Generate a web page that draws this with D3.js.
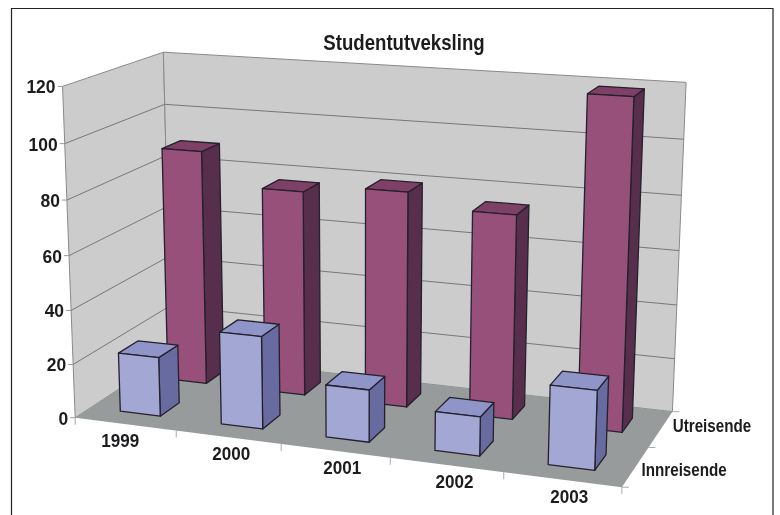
<!doctype html>
<html lang="en">
<head>
<meta charset="utf-8">
<title>Studentutveksling</title>
<script src="https://d3js.org/d3.v7.min.js"></script>
<style>
  html, body { margin: 0; background: #fff; }
  svg { display: block; filter: blur(0.35px); }
  text { font-family: "Liberation Sans", sans-serif; font-weight: bold; fill: #1c1c1f; }
</style>
</head>
<body>
<svg id="chart" width="780" height="515"></svg>
<script>
// data
const years = ["1999", "2000", "2001", "2002", "2003"];
const seriesNames = ["Innreisende", "Utreisende"];
const innreisende = [22, 34, 19, 14, 28];
const utreisende = [89, 77, 80, 75, 119];
const yTicks = [0, 20, 40, 60, 80, 100, 120];

const svg = d3.select("#chart");

// scales into "box" units, x 0..5, z 0..1 (front to back), y 0..120
const xBand = d3.scaleBand().domain(years).range([0, 5]).paddingInner(0.6).paddingOuter(0.3);
const zBand = d3.scaleBand().domain(seriesNames).range([0, 1]).paddingInner(0.6).paddingOuter(0.3);
const yScale = d3.scaleLinear().domain([0, 120]).range([0, 120]);

// known box corners and floor spots -> screen, used to fit the perspective camera
const calib = [
  [0, 0, 0, 76, 416], [0, 120, 0, 62, 86],
  [0, 0, 1, 169, 360], [0, 120, 1, 164, 52],
  [5, 0, 1, 673, 410], [5, 120, 1, 686, 83],
  [5, 0, 0, 622, 488],
  [1, 0, 0, 176, 431], [2, 0, 0, 281, 446], [3, 0, 0, 390, 459], [4, 0, 0, 503, 474],
  [0.7, 0, 0.65, 207, 381], [1.7, 0, 0.65, 305, 393], [3.7, 0, 0.65, 513, 418], [4.7, 0, 0.65, 622, 432],
  [0.7, 0, 0.15, 161, 415], [1.7, 0, 0.15, 263, 428], [2.7, 0, 0.15, 369, 442], [3.7, 0, 0.15, 480, 456], [4.7, 0, 0.15, 594, 471]
];

function solve(A, b) {
  const n = b.length;
  const M = A.map((r, i) => [...r, b[i]]);
  for (let i = 0; i < n; i++) {
    let p = i;
    for (let k = i + 1; k < n; k++) if (Math.abs(M[k][i]) > Math.abs(M[p][i])) p = k;
    [M[i], M[p]] = [M[p], M[i]];
    for (let k = 0; k < n; k++) {
      if (k === i) continue;
      const f = M[k][i] / M[i][i];
      for (let j = i; j <= n; j++) M[k][j] -= f * M[i][j];
    }
  }
  return M.map((r, i) => r[n] / r[i]);
}

function fitCamera(points) {
  const rows = [], rhs = [];
  points.forEach(([x0, y0, z, u, v]) => {
    const x = x0 / 5, y = y0 / 120;
    rows.push([x, y, z, 1, 0, 0, 0, 0, -u * x, -u * y, -u * z]); rhs.push(u);
    rows.push([0, 0, 0, 0, x, y, z, 1, -v * x, -v * y, -v * z]); rhs.push(v);
  });
  const A = d3.range(11).map(i => d3.range(11).map(j => d3.sum(rows, r => r[i] * r[j] / 1e4)));
  const b = d3.range(11).map(i => d3.sum(rows, (r, k) => r[i] * rhs[k] / 1e4));
  return solve(A, b);
}

const cam = fitCamera(calib);
function project(x0, y0, z) {
  const x = x0 / 5, y = y0 / 120;
  const w = 1 + cam[8] * x + cam[9] * y + cam[10] * z;
  return [(cam[0] * x + cam[1] * y + cam[2] * z + cam[3]) / w,
          (cam[4] * x + cam[5] * y + cam[6] * z + cam[7]) / w];
}
const poly = pts => "M" + pts.map(p => p.join(",")).join("L") + "Z";

// no narrow bold font here, so squeeze the text sideways
function label(x, y, str, size, sx, anchor) {
  svg.append("text").attr("transform", `translate(${x},${y}) scale(${sx},1)`)
    .attr("text-anchor", anchor).style("font-size", size + "px").text(str);
}

// frame
svg.append("path").attr("d", "M11.5,515V8.5H773V515").attr("fill", "none").attr("stroke", "#222").attr("stroke-width", 1.2);

label(404, 50, "Studentutveksling", 23, 0.81, "middle");

// walls and floor
const wallCol = "#cccccc", wallLine = "#8a8a8a";
svg.append("path").attr("fill", wallCol).attr("stroke", wallLine)
  .attr("d", poly([project(0, 0, 0), project(0, 120, 0), project(0, 120, 1), project(0, 0, 1)]));
svg.append("path").attr("fill", wallCol).attr("stroke", wallLine)
  .attr("d", poly([project(0, 0, 1), project(0, 120, 1), project(5, 120, 1), project(5, 0, 1)]));
svg.append("path").attr("fill", "#979b9b")
  .attr("d", poly([project(0, 0, 0), project(0, 0, 1), project(5, 0, 1), project(5, 0, 0)]));

// gridlines and value axis
const grid = svg.append("g").attr("fill", "none").attr("stroke", "#77777a").attr("stroke-width", 1);
yTicks.filter(t => t > 0 && t < 120).forEach(t => {
  grid.append("path").attr("d", "M" + [project(0, yScale(t), 0), project(0, yScale(t), 1), project(5, yScale(t), 1)].map(p => p.join(",")).join("L"));
});
yTicks.forEach(t => {
  const p = project(0, yScale(t), 0);
  svg.append("line").attr("x1", p[0] - 5).attr("x2", p[0]).attr("y1", p[1]).attr("y2", p[1]).attr("stroke", "#999");
  label(p[0] - 7, p[1] + 7, t, 19, 0.92, "end");
});

// category ticks and labels along the front edge
d3.range(0, 6).forEach(i => {
  const p = project(i, 0, 0);
  svg.append("line").attr("x1", p[0]).attr("x2", p[0]).attr("y1", p[1]).attr("y2", p[1] + 7).attr("stroke", "#aaa");
});
const yearNudge = [-5, 3, 7, 8, 7]; // labels do not sit quite at the band centres
years.forEach((y, i) => {
  const p = project(xBand(y) + xBand.bandwidth() / 2, 0, 0);
  label(p[0] + yearNudge[i], p[1] + 23, y, 18, 0.95, "middle");
});

// depth ticks and series labels
[0, 0.5, 1].forEach(z => {
  const p = project(5, 0, z);
  svg.append("line").attr("x1", p[0]).attr("x2", p[0] + 7).attr("y1", p[1]).attr("y2", p[1]).attr("stroke", "#aaa");
});
const seriesNudge = { Innreisende: [6, 9], Utreisende: [12, 3] };
seriesNames.forEach(s => {
  const p = project(5, 0, zBand(s) + zBand.bandwidth() / 2);
  label(p[0] + seriesNudge[s][0], p[1] + seriesNudge[s][1], s, 19, 0.8, "start");
});

// bars, back row first
const styles = {
  Utreisende: { values: utreisende, front: "#97507a", side: "#572f4c", top: "#7e4066" },
  Innreisende: { values: innreisende, front: "#a2a8d3", side: "#686b9f", top: "#8f94c9" }
};
function drawBar(year, series, value) {
  const st = styles[series];
  const x0 = xBand(year), x1 = x0 + xBand.bandwidth();
  const z0 = zBand(series), z1 = z0 + zBand.bandwidth();
  const h = yScale(value);
  const g = svg.append("g").attr("stroke", "#24202c").attr("stroke-width", 1.3).attr("stroke-linejoin", "round");
  g.append("path").attr("fill", st.side)
    .attr("d", poly([project(x1, 0, z0), project(x1, h, z0), project(x1, h, z1), project(x1, 0, z1)]));
  g.append("path").attr("fill", st.top)
    .attr("d", poly([project(x0, h, z0), project(x0, h, z1), project(x1, h, z1), project(x1, h, z0)]));
  g.append("path").attr("fill", st.front)
    .attr("d", poly([project(x0, 0, z0), project(x0, h, z0), project(x1, h, z0), project(x1, 0, z0)]));
}
["Utreisende", "Innreisende"].forEach(s => {
  years.forEach((y, i) => drawBar(y, s, styles[s].values[i]));
});
</script>
</body>
</html>
